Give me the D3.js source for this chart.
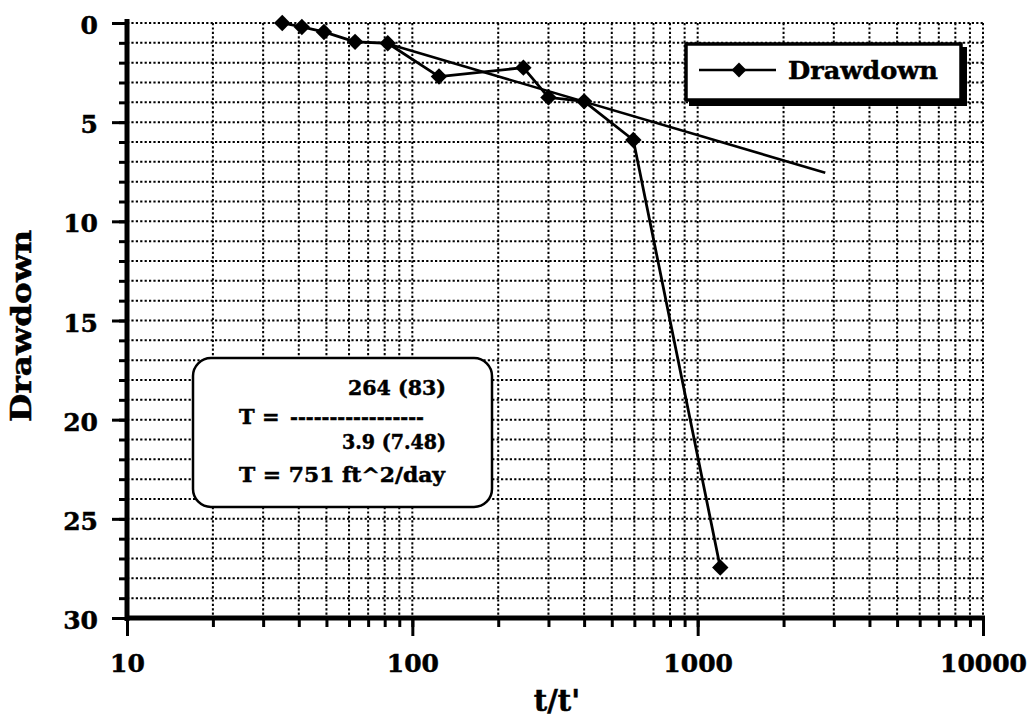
<!DOCTYPE html>
<html>
<head>
<meta charset="utf-8">
<script src="https://cdn.jsdelivr.net/npm/d3@7"></script>
<style>
  html, body { margin: 0; padding: 0; background: #fff; }
  svg { display: block; }
  text { font-family: "DejaVu Serif", serif; font-weight: bold; fill: #000; stroke: #000; stroke-width: 0.5px; }
</style>
</head>
<body>
<svg id="chart" width="1035" height="718"></svg>
<script>
// ---- data ----
const tRatio   = [35, 41, 49, 63, 82, 124, 245, 300, 400, 595, 1200];
const drawdown = [0.0, 0.2, 0.45, 0.95, 1.02, 2.7, 2.25, 3.75, 3.95, 5.9, 27.45];
const fitX = [82, 2800];
const fitY = [1.05, 7.55];
const xMajorTicks = [10, 100, 1000, 10000];
const yMajorTicks = [0, 5, 10, 15, 20, 25, 30];
const seriesName = "Drawdown";
const xTitle = "t/t'";
const yTitle = "Drawdown";
const noteLines = ["264 (83)", "T =", "-----------------", "3.9 (7.48)", "T = 751 ft^2/day"];

// ---- scales ----
const svg = d3.select("#chart");
const x = d3.scaleLog().domain([10, 10000]).range([127, 983]);
const y = d3.scaleLinear().domain([0, 30]).range([23, 618]);
const [x0, x1] = x.range();
const [y0, y1] = y.range();

// ---- grid ----
const grid = svg.append("g").attr("stroke", "#000").attr("stroke-width", 2)
  .attr("stroke-dasharray", "2.2,2.2").attr("fill", "none");
grid.selectAll("line.h").data(y.ticks(30).filter(d => d < 30)).join("line")
  .attr("class", "h").attr("x1", x0).attr("x2", x1)
  .attr("y1", d => y(d)).attr("y2", d => y(d));
grid.selectAll("line.v").data(x.ticks().filter(d => d > 10)).join("line")
  .attr("class", "v").attr("y1", y0).attr("y2", y1)
  .attr("x1", d => x(d)).attr("x2", d => x(d));

// ---- axes ----
const yMinor = svg.append("g").attr("transform", `translate(${x0},0)`)
  .call(d3.axisLeft(y).tickValues(y.ticks(30)).tickSize(8).tickFormat(""));
const yMajor = svg.append("g").attr("transform", `translate(${x0},0)`)
  .call(d3.axisLeft(y).tickValues(yMajorTicks).tickSize(15).tickPadding(14).tickFormat(d3.format("d")));
const xMinor = svg.append("g").attr("transform", `translate(0,${y1})`)
  .call(d3.axisBottom(x).tickValues(x.ticks()).tickSize(9).tickFormat(""));
const xMajor = svg.append("g").attr("transform", `translate(0,${y1})`)
  .call(d3.axisBottom(x).tickValues(xMajorTicks).tickSize(18).tickPadding(18).tickFormat(d3.format("d")));
[yMinor, yMajor, xMinor, xMajor].forEach(g => {
  g.select(".domain").remove();
  g.selectAll(".tick line").attr("stroke", "#000").attr("stroke-width", 3);
  g.selectAll(".tick text").attr("font-size", 25).attr("font-family", "DejaVu Serif").attr("font-weight", "bold").attr("fill", "#000");
});
yMajor.selectAll(".tick text").attr("dy", "0.42em");

svg.append("line").attr("x1", x0).attr("x2", x0).attr("y1", y0 - 4).attr("y2", y1 + 3)
  .attr("stroke", "#000").attr("stroke-width", 5);
svg.append("line").attr("x1", x0 - 2).attr("x2", x1 + 2).attr("y1", y1).attr("y2", y1)
  .attr("stroke", "#000").attr("stroke-width", 5);

// ---- axis titles ----
svg.append("text").attr("x", 557).attr("y", 711).attr("text-anchor", "middle")
  .attr("font-size", 29).text(xTitle);
svg.append("text").attr("transform", "translate(31,326) rotate(-90)").attr("text-anchor", "middle")
  .attr("font-size", 28).attr("textLength", 192).attr("lengthAdjust", "spacingAndGlyphs").text(yTitle);

// ---- fit line ----
svg.append("line")
  .attr("x1", x(fitX[0])).attr("y1", y(fitY[0]))
  .attr("x2", x(fitX[1])).attr("y2", y(fitY[1]))
  .attr("stroke", "#000").attr("stroke-width", 2.6);

// ---- data series ----
const pts = tRatio.map((t, i) => [t, drawdown[i]]);
svg.append("path").datum(pts)
  .attr("fill", "none").attr("stroke", "#000").attr("stroke-width", 2.8)
  .attr("stroke-linejoin", "round")
  .attr("d", d3.line().x(d => x(d[0])).y(d => y(d[1])));
const diamond = d3.symbol().type(d3.symbolSquare).size(135);
svg.append("g").selectAll("path").data(pts).join("path")
  .attr("d", diamond)
  .attr("transform", d => `translate(${x(d[0])},${y(d[1])}) rotate(45)`)
  .attr("fill", "#000");

// ---- legend ----
const lg = svg.append("g");
lg.append("rect").attr("x", 689).attr("y", 47).attr("width", 278).attr("height", 59).attr("fill", "#000");
lg.append("rect").attr("x", 686).attr("y", 44).attr("width", 275).attr("height", 56)
  .attr("fill", "#fff").attr("stroke", "#000").attr("stroke-width", 3.5);
lg.append("line").attr("x1", 699).attr("x2", 776).attr("y1", 70).attr("y2", 70)
  .attr("stroke", "#000").attr("stroke-width", 2.4);
lg.append("path").attr("d", d3.symbol().type(d3.symbolSquare).size(110))
  .attr("transform", "translate(739,70) rotate(45)").attr("fill", "#000");
lg.append("text").attr("x", 788).attr("y", 79).attr("font-size", 25)
  .attr("textLength", 150).attr("lengthAdjust", "spacingAndGlyphs").text(seriesName);

// ---- note box ----
const nb = svg.append("g");
nb.append("rect").attr("x", 193).attr("y", 358).attr("width", 299).attr("height", 149)
  .attr("rx", 18).attr("ry", 18).attr("fill", "#fff").attr("stroke", "#000").attr("stroke-width", 2.5);
nb.append("text").attr("x", 446).attr("y", 395).attr("text-anchor", "end").attr("font-size", 21)
  .attr("textLength", 98).attr("lengthAdjust", "spacingAndGlyphs").text(noteLines[0]);
nb.append("text").attr("x", 239).attr("y", 424).attr("font-size", 21).text(noteLines[1]);
nb.append("text").attr("x", 290).attr("y", 424).attr("font-size", 21)
  .attr("textLength", 134).attr("lengthAdjust", "spacingAndGlyphs").text(noteLines[2]);
nb.append("text").attr("x", 446).attr("y", 449).attr("text-anchor", "end").attr("font-size", 21)
  .attr("textLength", 104).attr("lengthAdjust", "spacingAndGlyphs").text(noteLines[3]);
nb.append("text").attr("x", 239).attr("y", 482).attr("font-size", 21)
  .attr("textLength", 206).attr("lengthAdjust", "spacingAndGlyphs").text(noteLines[4]);
</script>
</body>
</html>
